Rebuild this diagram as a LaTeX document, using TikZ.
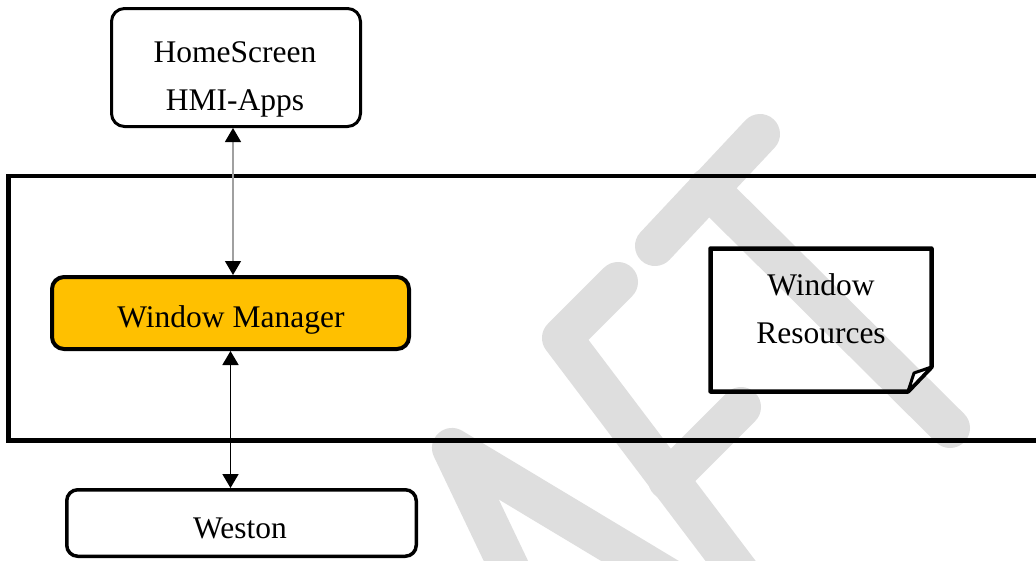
\documentclass[tikz,border=0pt]{standalone}
\usepackage{fontspec}
\setmainfont{Liberation Serif}
\usetikzlibrary{arrows.meta}
\definecolor{wmyellow}{HTML}{FFC000}
\definecolor{wmark}{HTML}{DEDEDE}
\definecolor{linkgray}{HTML}{A0A0A0}
\begin{document}
\begin{tikzpicture}[x=1pt,y=-1pt,
  box/.style={draw=black, line width=3pt, rounded corners=13pt, inner sep=0pt, fill=white},
  lbl/.style={font=\fontsize{31.5}{45}\selectfont, anchor=base, inner sep=0pt},
  wmstroke/.style={draw=wmark, line width=40pt, line cap=round, line join=round},
  tipstyle/.style={arrows={Triangle[length=14pt,width=16pt,color=black,fill=black]-Triangle[length=14pt,width=16pt,color=black,fill=black]}}
]
\clip (0,0) rectangle (1036,560);
\fill[white] (0,0) rectangle (1036,560);

% watermark
\draw[wmstroke] (760,134) -- (655,246);
\draw[wmstroke] (708,188) -- (950,428);
\draw[wmstroke] (618,282) -- (562,338) -- (745,580);
\draw[wmstroke] (668,480) -- (741,407);
\draw[wmstroke] (515,580) -- (452,448) -- (680,585);

% big frame
\draw[line width=4.5pt] (8.5,176) rectangle (1050,440.5);

% boxes
\node[box, fill=none, minimum width=249pt, minimum height=118pt] (hs) at (236,67.5) {};
\node[box, line width=4pt, rounded corners=12pt, fill=wmyellow, minimum width=357pt, minimum height=72pt] (wm) at (230.5,313) {};
\node[box, line width=3.5pt, rounded corners=11pt, minimum width=349.5pt, minimum height=66.5pt] (weston) at (241.5,523) {};

% document shape
\draw[line width=4.5pt, line join=round] (710.5,248.5) -- (931.5,248.5) -- (931.5,367) -- (908,391.5) -- (710.5,391.5) -- cycle;
\draw[line width=3pt, line join=round, fill=white] (931.5,367) -- (914,373) -- (908,391.5) -- cycle;

% texts
\node[lbl] (hs1) at (235,62) {HomeScreen};
\node[lbl] (hs2) at (235,110) {HMI-Apps};
\node[lbl] (wmt) at (231,327) {Window Manager};
\node[lbl] (wr1) at (821,295) {Window};
\node[lbl] (wr2) at (821,343) {Resources};
\node[lbl] (wt) at (240,538) {Weston};

% connectors
\draw[linkgray, line width=1.2pt, tipstyle] ([xshift=-3pt]hs.south) -- ([xshift=-3pt]hs.south |- wm.north);
\draw[black, line width=1.8pt, tipstyle] (wm.south) -- (wm.south |- weston.north);
\end{tikzpicture}
\end{document}
